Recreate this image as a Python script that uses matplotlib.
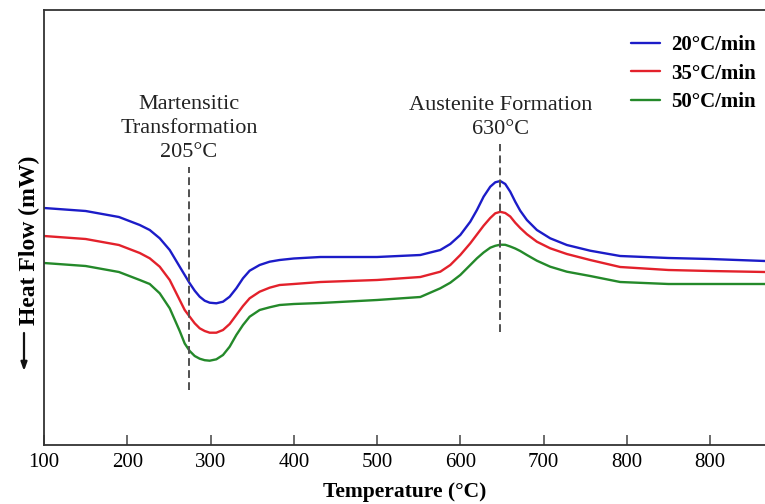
import matplotlib
matplotlib.use("Agg")
import matplotlib.pyplot as plt

# DSC heat-flow traces (arbitrary units, endo down) at three heating rates
temperature = [100, 150, 190, 215,
               227, 239, 251, 263, 269, 275, 281, 287, 293, 299, 307, 315, 323, 331, 339, 347,
               359, 371, 383,
               400, 432, 500, 552,
               576, 588, 600, 612, 620, 628, 636, 642, 648, 654, 660, 666, 672, 680, 692, 708,
               728, 756,
               792, 850, 900, 966]
flow_20 = [23.7, 23.4, 22.8, 22.0,
           21.5, 20.67, 19.5, 17.83, 17.0, 16.17, 15.43, 14.83, 14.43, 14.23, 14.17, 14.33, 14.83,
           15.67, 16.67, 17.43, 18.0, 18.33, 18.5,
           18.65, 18.8, 18.8, 19.0,
           19.5, 20.1, 21.0, 22.33, 23.5, 24.83, 25.83, 26.27, 26.4, 26.1, 25.33, 24.33, 23.43,
           22.5, 21.5, 20.67, 20.0, 19.43,
           18.9, 18.7, 18.6, 18.4]
flow_35 = [20.9, 20.6, 20.0, 19.2,
           18.67, 17.83, 16.5, 14.5, 13.5, 12.83, 12.17, 11.67, 11.4, 11.23, 11.23, 11.5, 12.1,
           13.0, 13.9, 14.67, 15.33, 15.73, 16.0,
           16.1, 16.3, 16.5, 16.8,
           17.33, 18.0, 19.0, 20.17, 21.05, 21.93, 22.7, 23.17, 23.32, 23.2, 22.85, 22.23, 21.7,
           21.08, 20.33, 19.67, 19.1, 18.5,
           17.8, 17.5, 17.4, 17.3]
flow_50 = [18.2, 17.9, 17.3, 16.5,
           16.1, 15.17, 13.67, 11.4, 10.15, 9.4, 8.9, 8.63, 8.48, 8.43, 8.57, 9.0, 9.83,
           11.0, 12.0, 12.83, 13.5, 13.77, 14.0,
           14.1, 14.2, 14.5, 14.8,
           15.67, 16.23, 17.0, 18.0, 18.67, 19.25, 19.73, 19.92, 20.03, 20.02, 19.85, 19.65, 19.4,
           19.0, 18.43, 17.83, 17.33, 16.9,
           16.3, 16.1, 16.1, 16.1]

series_labels = ["20°C/min", "35°C/min", "50°C/min"]
series_colors = ["#1c1cc8", "#e3212b", "#24892a"]

# transition markers: x position, dashed span, label
marker_x = [274, 648]
marker_span = [(5.5, 27.8), (11.3, 30.1)]
marker_text = ["Martensitic\nTransformation\n205°C", "Austenite Formation\n630°C"]
marker_text_y = [28.3, 30.6]

tick_pos = [100, 200, 300, 400, 500, 600, 700, 800, 900]
tick_labels = ["100", "200", "300", "400", "500", "600", "700", "800", "800"]

plt.rcParams["font.family"] = ["Liberation Serif", "DejaVu Sans"]

fig = plt.figure(figsize=(7.65, 5.04), dpi=100)
ax = fig.add_axes([44 / 765, 59 / 504, 721 / 765, 435 / 504])

for vals, lab, col in zip([flow_20, flow_35, flow_50], series_labels, series_colors):
    ax.plot(temperature, vals, color=col, lw=1.7, label=lab,
            solid_capstyle="round", solid_joinstyle="round")

for mx, (y0, y1), txt, ty in zip(marker_x, marker_span, marker_text, marker_text_y):
    ax.plot([mx, mx], [y0, y1], color="#505050", lw=1.4, ls=(0, (4, 2.2)))
    ax.text(mx, ty, txt, ha="center", va="bottom", fontsize=16, color="#222222",
            linespacing=1.34)

ax.set_xlim(100, 966)
ax.set_ylim(0, 43.5)
ax.set_yticks([])
ax.set_xticks(tick_pos)
ax.set_xticklabels(tick_labels, fontsize=15)
ax.tick_params(axis="x", direction="in", length=7, width=1.1, color="#444444", pad=6)

for side in ["left", "bottom", "top"]:
    ax.spines[side].set_linewidth(1.3)
    ax.spines[side].set_color("#333333")
ax.spines["right"].set_visible(False)

ax.set_xlabel("Temperature (°C)", fontsize=15.5, fontweight="bold", labelpad=7)
ax.set_ylabel("Heat Flow (mW)", fontsize=17, fontweight="bold")
ax.yaxis.set_label_coords(-0.006, 0.471)

# direction arrow below the y label
ax.annotate("", xy=(24 / 765, 1 - 371 / 504), xytext=(24 / 765, 1 - 333 / 504),
            xycoords="figure fraction", textcoords="figure fraction",
            arrowprops=dict(arrowstyle="-|>,head_length=0.5,head_width=0.18",
                            color="#111111", lw=1.6, shrinkA=0, shrinkB=0))

leg = ax.legend(loc="upper right", bbox_to_anchor=(1.014, 0.985), frameon=False,
                prop={"size": 15, "weight": "bold"}, handlelength=1.4,
                handletextpad=0.55, labelspacing=0.4)

fig.savefig("out.png", dpi=100, facecolor="white")
